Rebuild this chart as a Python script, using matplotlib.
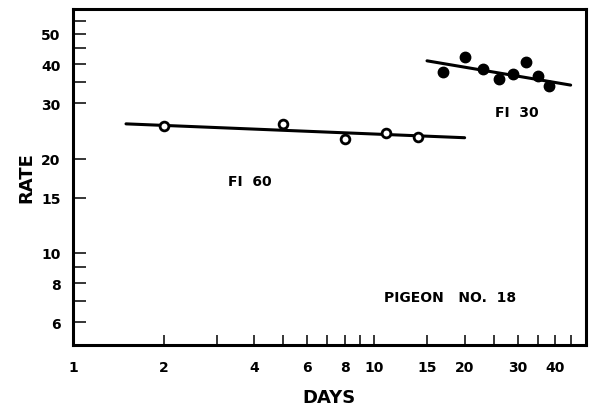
import matplotlib
matplotlib.use("Agg")
import matplotlib.pyplot as plt
from matplotlib.ticker import FixedLocator, FixedFormatter, NullFormatter

# ---- data ----
fi60_days = [2, 5, 8, 11, 14]
fi60_rate = [25.4, 25.8, 23.1, 24.2, 23.5]
fi60_fit_days = [1.5, 20]
fi60_fit_rate = [25.8, 23.3]

fi30_days = [17, 20, 23, 26, 29, 32, 35, 38]
fi30_rate = [37.8, 42.2, 38.5, 36.0, 37.3, 40.6, 36.6, 34.1]
fi30_fit_days = [15, 45]
fi30_fit_rate = [41.0, 34.3]

x_major = [1, 2, 4, 6, 8, 10, 15, 20, 30, 40]
x_labels = ["1", "2", "4", "6", "8", "10", "15", "20", "30", "40"]
x_minor = [3, 5, 7, 9, 25, 35, 45]
y_major = [6, 8, 10, 15, 20, 30, 40, 50]
y_labels = ["6", "8", "10", "15", "20", "30", "40", "50"]
y_minor = [7, 9, 35, 45, 55]

plt.rcParams['font.family'] = ['DejaVu Sans']
plt.rcParams['font.weight'] = 'bold'

fig = plt.figure(figsize=(5.94, 4.10), dpi=100)
ax = fig.add_axes([0.1229, 0.1561, 0.8636, 0.8195])
ax.set_xscale('log')
ax.set_yscale('log')
ax.set_xlim(1, 50.6)
ax.set_ylim(5.08, 60)

ax.plot(fi60_fit_days, fi60_fit_rate, color='black', lw=2.2, solid_capstyle='round', zorder=2)
ax.plot(fi30_fit_days, fi30_fit_rate, color='black', lw=2.2, solid_capstyle='round', zorder=2)
ax.plot(fi60_days, fi60_rate, 'o', ms=6.3, mfc='white', mec='black', mew=2.0, zorder=3)
ax.plot(fi30_days, fi30_rate, 'o', ms=7.5, mfc='black', mec='black', zorder=3)

ax.xaxis.set_major_locator(FixedLocator(x_major))
ax.xaxis.set_major_formatter(FixedFormatter(x_labels))
ax.xaxis.set_minor_locator(FixedLocator(x_minor))
ax.xaxis.set_minor_formatter(NullFormatter())
ax.yaxis.set_major_locator(FixedLocator(y_major))
ax.yaxis.set_major_formatter(FixedFormatter(y_labels))
ax.yaxis.set_minor_locator(FixedLocator(y_minor))
ax.yaxis.set_minor_formatter(NullFormatter())

ax.tick_params(axis='x', which='both', direction='in', length=7, width=1.1, pad=11, labelsize=10)
ax.tick_params(axis='y', which='both', direction='in', length=9, width=1.1, pad=9, labelsize=10)
for lab in ax.get_xticklabels() + ax.get_yticklabels():
    lab.set_fontweight('bold')

for s in ax.spines.values():
    s.set_linewidth(2.2)

ax.set_xlabel('DAYS', fontsize=13, fontweight='bold', labelpad=10)
ax.set_ylabel('RATE', fontsize=13, fontweight='bold', labelpad=4)

ax.text(3.87, 16.9, 'FI  60', fontsize=10, fontweight='bold', ha='center', va='center')
ax.text(29.9, 28.2, 'FI  30', fontsize=10, fontweight='bold', ha='center', va='center')
ax.text(17.9, 7.23, 'PIGEON   NO.  18', fontsize=10, fontweight='bold', ha='center', va='center')

fig.savefig('out.png', dpi=100)
